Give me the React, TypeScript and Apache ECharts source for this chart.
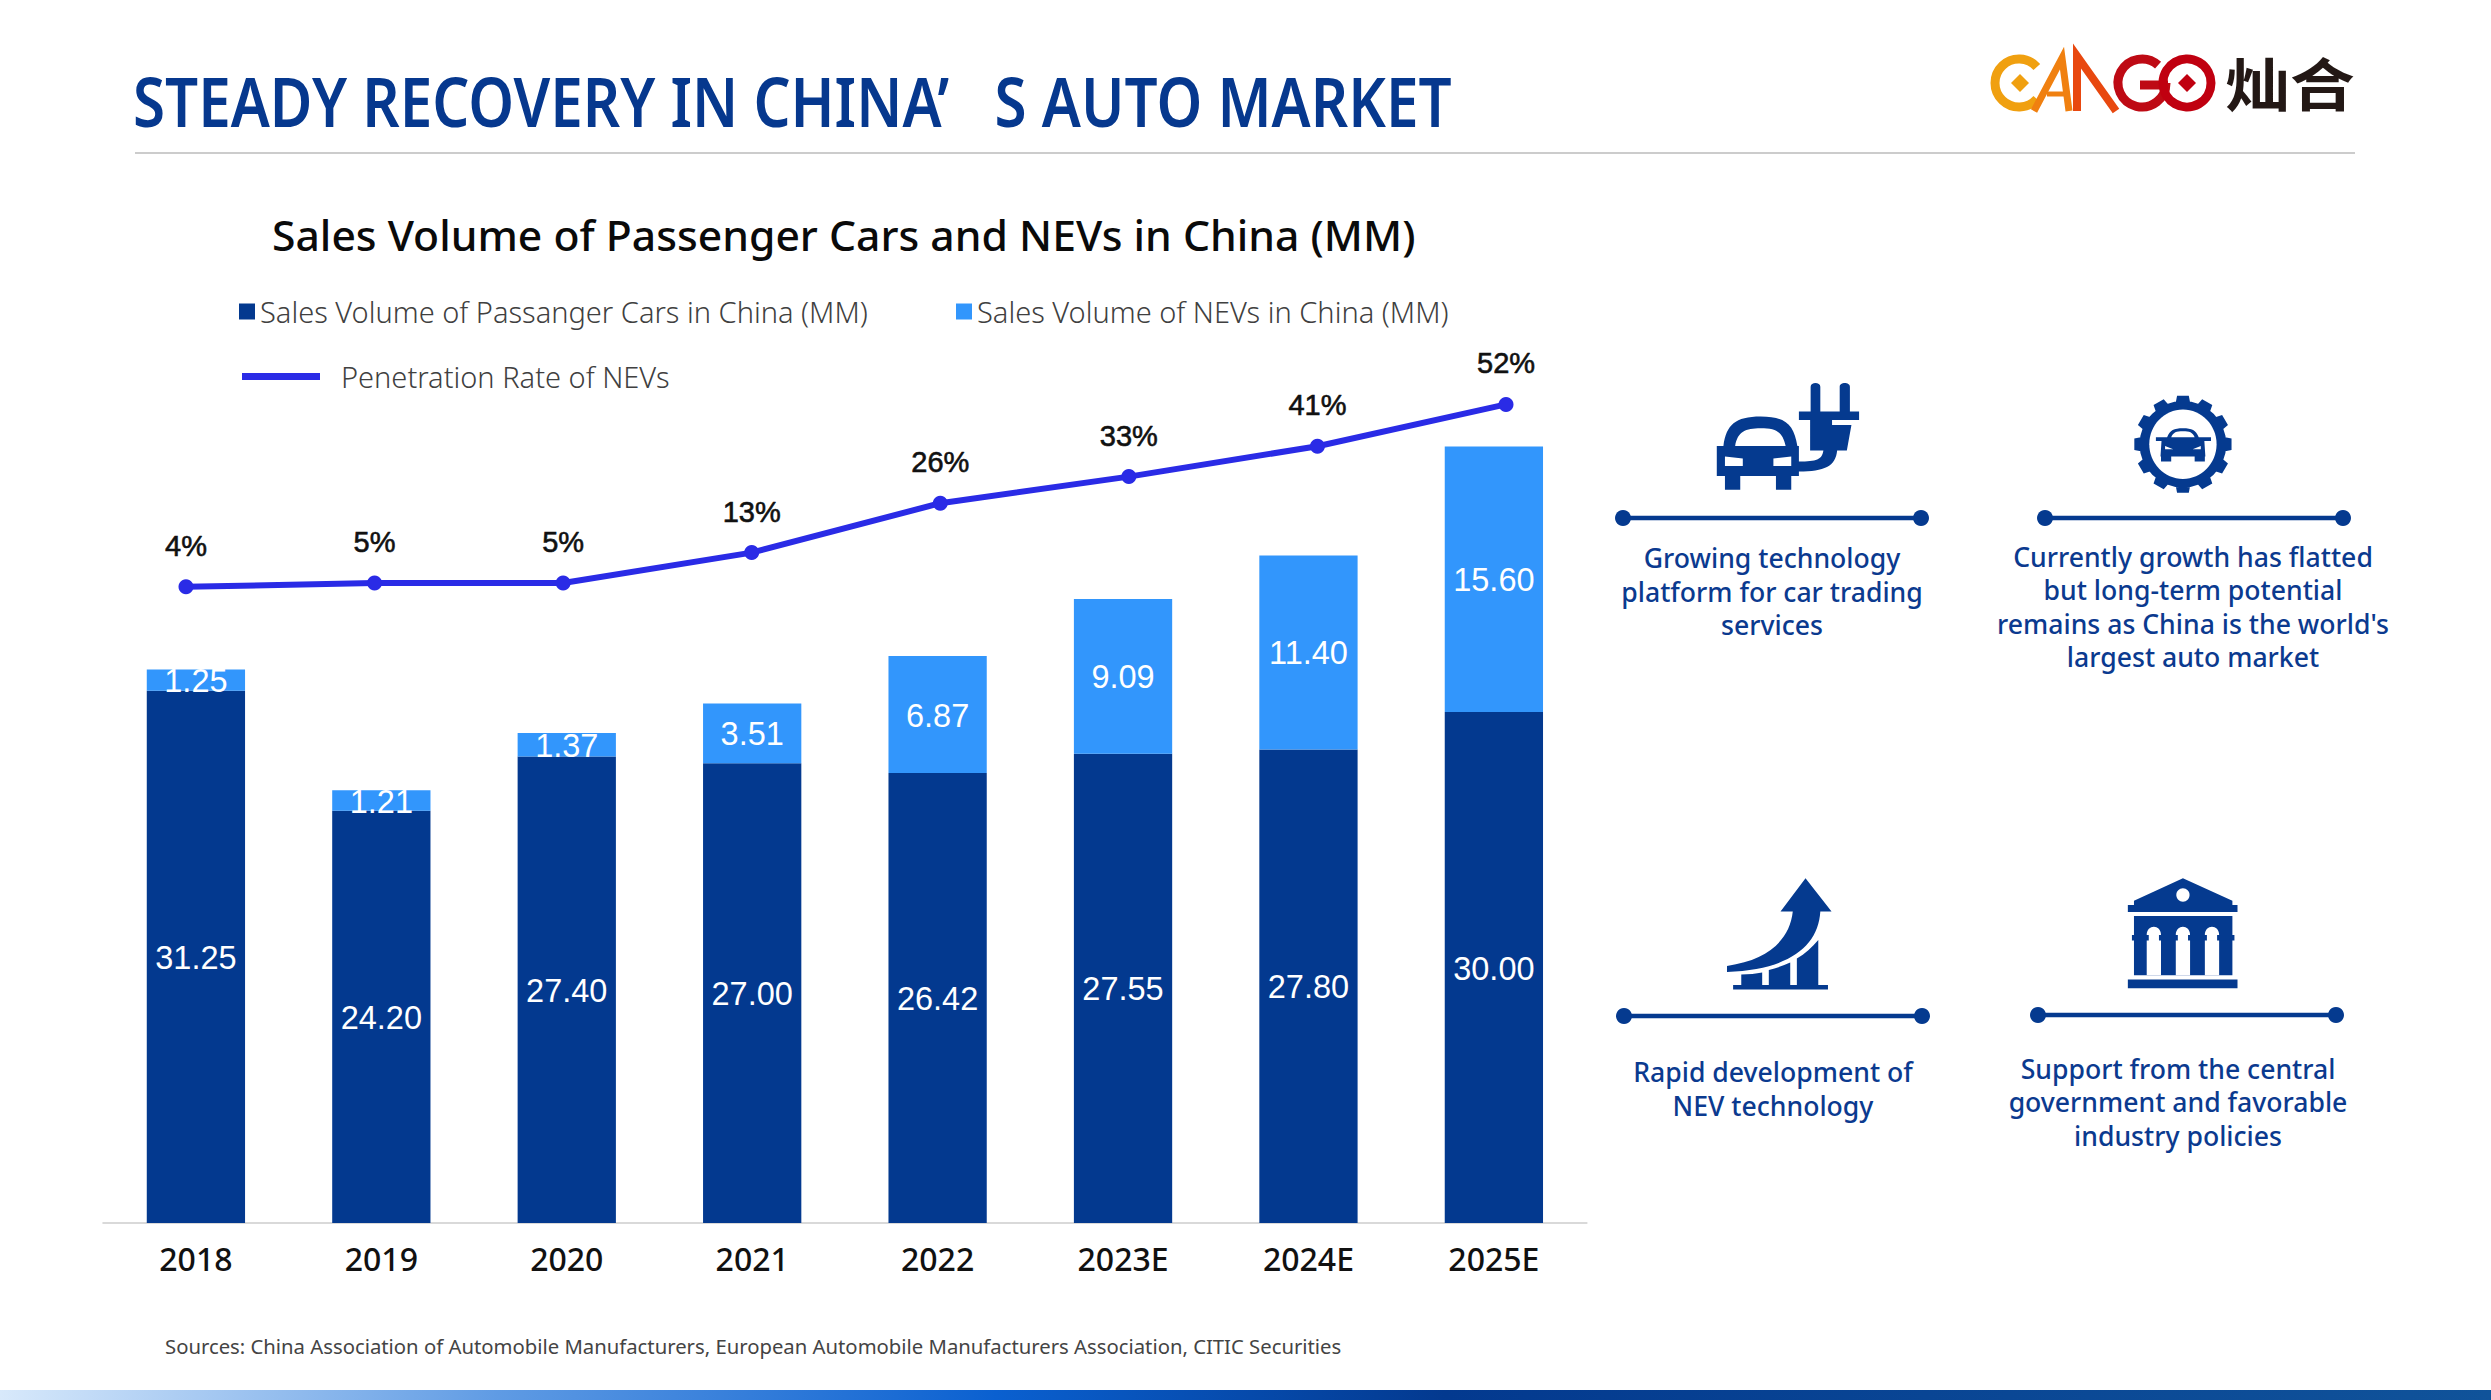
import React, { useEffect, useRef } from "react";
import * as echarts from "echarts";

const categories = ["2018", "2019", "2020", "2021", "2022", "2023E", "2024E", "2025E"];
const passengerCars = [31.25, 24.2, 27.4, 27.0, 26.42, 27.55, 27.8, 30.0];
const nevs = [1.25, 1.21, 1.37, 3.51, 6.87, 9.09, 11.4, 15.6];
const penetration = [4, 5, 5, 13, 26, 33, 41, 52];

const seriesNames = [
  "Sales Volume of Passanger Cars in China (MM)",
  "Sales Volume of NEVs in China (MM)",
  "Penetration Rate of NEVs",
];
const pageTitle = "STEADY RECOVERY IN CHINA’   S AUTO MARKET";
const chartTitle = "Sales Volume of Passenger Cars and NEVs in China (MM)";
const sourceText =
  "Sources: China Association of Automobile Manufacturers, European Automobile Manufacturers Association, CITIC Securities";

const DARK = "#03398f";
const LIGHT = "#3296fc";
const LINE = "#2a2be6";
const ICON = "#053a8f";
const SANS = '"Noto Sans"';

const callouts = [
  { lines: ["Growing technology", "platform for car trading", "services"], cx: 1772, ys: [558, 592, 625] },
  { lines: ["Currently growth has flatted", "but long-term potential", "remains as China is the world's", "largest auto market"], cx: 2193, ys: [557, 590, 624, 657] },
  { lines: ["Rapid development of", "NEV technology"], cx: 1773, ys: [1072, 1106] },
  { lines: ["Support from the central", "government and favorable", "industry policies"], cx: 2178, ys: [1069, 1102, 1136] },
];
const connectors = [
  [1623, 1921, 518],
  [2045, 2343, 518],
  [1624, 1922, 1016],
  [2038, 2336, 1015],
];

const gearPath = (() => {
  const cx = 1143, cy = 253, n = 12;
  let d = `M${cx - 85} ${cy} A85 130 0 1 1 ${cx + 85} ${cy} A85 130 0 1 1 ${cx - 85} ${cy} Z `;
  for (let i = 0; i < n; i++) {
    const a = (i / n) * Math.PI * 2 - Math.PI / 2;
    const p = (r: number, t: number) =>
      `${(cx + r * 96 * Math.cos(t)).toFixed(1)} ${(cy + r * 147 * Math.sin(t)).toFixed(1)}`;
    d += `M${p(0.8, a - 0.2)} L${p(1, a - 0.12)} L${p(1, a + 0.12)} L${p(0.8, a + 0.2)} Z `;
  }
  return d;
})();

const SHAPES: Record<string, string> = {
  carPlug:
    "M229 258 H242 C248 195 265 170 315 170 C365 170 380 195 387 258 H390 V348 H375 V390 H345 V348 H275 V390 H245 V348 H229 Z " +
    "M413 80 C413 65 432 65 432 80 V155 H470 V80 C470 65 490 65 490 80 V155 H508 V180 H455 V195 H493 L484 272 H465 C462 320 440 335 390 335 V305 C425 305 435 300 438 272 H412 V180 H390 V155 H413 Z",
  carHoles:
    "M265 258 C270 215 285 205 315 205 C345 205 358 215 364 258 Z M245 290 L280 296 V318 H245 Z M375 290 L340 296 V318 H375 Z",
  gear: gearPath,
  smallCar:
    "M1112 232 C1118 210 1125 205 1143 205 C1161 205 1168 210 1174 232 H1198 V243 H1185 L1187 290 H1186 V305 H1166 V290 H1120 V305 H1100 V290 H1099 L1101 243 H1090 V232 Z",
  smallCarHoles:
    "M1120 232 C1124 217 1130 214 1143 214 C1156 214 1162 217 1166 232 Z M1108 258 L1124 268 H1108 Z M1178 258 L1162 268 H1178 Z",
  growth:
    "M403 55 L454 155 H432 C428 260 370 330 249 336 V318 C330 300 372 240 378 155 H354 Z " +
    "M428 240 V375 H386 V296 C402 282 416 262 428 240 Z M373 308 V375 H331 V330 C346 325 360 317 373 308 Z M318 338 V375 H277 V344 C292 344 306 342 318 338 Z M261 375 H447 V389 H261 Z",
  bank:
    "M1143 55 L1240 122 V135 H1250 V156 H1035 V135 H1047 V122 Z M1047 168 H1240 V346 H1047 Z M1035 359 H1250 V385 H1035 Z",
  bankHoles:
    "M1072 346 V225 C1072 192 1100 192 1100 225 V346 Z M1129 346 V225 C1129 192 1157 192 1157 225 V346 Z M1186 346 V225 C1186 192 1214 192 1214 225 V346 Z",
  bankCaps:
    "M1043 225 H1076 V242 H1043 Z M1096 225 H1133 V242 H1096 Z M1153 225 H1190 V242 H1153 Z M1210 225 H1244 V242 H1210 Z",
};
Object.keys(SHAPES).forEach((k) => {
  echarts.graphic.registerShape(k, echarts.graphic.extendPath(SHAPES[k], {}) as any);
});

function buildGraphic() {
  const out: any[] = [];
  const text = (t: string, x: number, y: number, font: string, fill: string, align = "center", scaleX = 1, scaleY = 1) => ({
    type: "text", x, y, scaleX, scaleY, silent: true,
    style: { text: t, font, fill, align, verticalAlign: "middle" },
  });
  const logoArc = (cx: number, cy: number, start: number, end: number, stroke: string) => ({
    type: "arc", silent: true,
    shape: { cx, cy, r: 24, startAngle: (start * Math.PI) / 180, endAngle: (end * Math.PI) / 180 },
    style: { stroke, lineWidth: 9, fill: "none" },
  });
  const seg = (pts: number[][], stroke: string, lineWidth: number) => ({
    type: "polyline", silent: true, shape: { points: pts }, style: { stroke, lineWidth, fill: "none" },
  });
  const diamond = (cx: number, cy: number, r: number, fill: string) => ({
    type: "polygon", silent: true,
    shape: { points: [[cx - r, cy], [cx, cy - r], [cx + r, cy], [cx, cy + r]] }, style: { fill },
  });

  out.push(text(pageTitle, 133, 101, `600 68px ${SANS}`, "#06388e", "left", 0.857));
  out.push({ type: "rect", silent: true, shape: { x: 135, y: 152, width: 2220, height: 2 }, style: { fill: "#cccccc" } });
  out.push(text(chartTitle, 272, 235, `500 42px ${SANS}`, "#0a0a0a", "left", 1.016));
  out.push(text(sourceText, 165, 1346, `400 20.3px ${SANS}`, "#444444", "left", 1));
  out.push({
    type: "rect", silent: true, shape: { x: 0, y: 1390, width: 2491, height: 10 },
    style: {
      fill: new echarts.graphic.LinearGradient(0, 0, 1, 0, [
        { offset: 0, color: "#d8e9fb" },
        { offset: 0.2, color: "#5f9be4" },
        { offset: 0.4, color: "#0a60d0" },
        { offset: 0.58, color: "#03398f" },
        { offset: 1, color: "#10539a" },
      ]),
    },
  });

  // logo
  out.push(logoArc(2019, 83, 42, 318, "#f0a010"));
  out.push(diamond(2020, 83, 9, "#f0a010"));
  out.push(seg([[2034, 111], [2062, 58], [2069, 111]], "#f08010", 7));
  out.push(seg([[2047, 94], [2068, 94]], "#f08010", 5));
  out.push(seg([[2077, 111], [2077, 56], [2116, 111]], "#e8480f", 8));
  out.push(logoArc(2142, 83, 0, 312, "#be0a14"));
  out.push(seg([[2140, 85], [2168, 85]], "#be0a14", 9));
  out.push(logoArc(2187, 83, 0, 359.9, "#c00010"));
  out.push(diamond(2187, 83, 9, "#c00010"));
  out.push(text("灿合", 2290, 81, '700 60px "Noto Sans CJK SC"', "#231815", "center", 1.08, 0.95));

  // connectors
  connectors.forEach(([a, b, y]) => {
    out.push({ type: "line", silent: true, shape: { x1: a, y1: y, x2: b, y2: y }, style: { stroke: ICON, lineWidth: 4.5 } });
    out.push({ type: "circle", silent: true, shape: { cx: a, cy: y, r: 8 }, style: { fill: ICON } });
    out.push({ type: "circle", silent: true, shape: { cx: b, cy: y, r: 8 }, style: { fill: ICON } });
  });

  // icons, drawn in crop space
  const white = "#ffffff";
  const iconGroup = (y: number, children: any[]) => ({
    type: "group", x: 1600, y, scaleX: 1 / 1.96, scaleY: 1 / 3, silent: true, children,
  });
  out.push(iconGroup(360, [
    { type: "carPlug", style: { fill: ICON } },
    { type: "carHoles", style: { fill: white } },
    { type: "gear", style: { fill: ICON } },
    { type: "ellipse", shape: { cx: 1143, cy: 253, rx: 66, ry: 104 }, style: { fill: white } },
    { type: "smallCar", style: { fill: ICON } },
    { type: "smallCarHoles", style: { fill: white } },
  ]));
  out.push(iconGroup(860, [
    { type: "growth", style: { fill: ICON } },
    { type: "bank", style: { fill: ICON } },
    { type: "bankHoles", style: { fill: white } },
    { type: "bankCaps", style: { fill: ICON } },
    { type: "ellipse", shape: { cx: 1143, cy: 105, rx: 13, ry: 20 }, style: { fill: white } },
  ]));

  callouts.forEach((c) =>
    c.lines.forEach((l, i) => out.push(text(l, c.cx, c.ys[i], `500 26.6px ${SANS}`, "#0b3a8f")))
  );
  return out;
}

const legendText = { fontFamily: SANS, fontSize: 29, fontWeight: 300, color: "#404040" };
const barLabel = {
  show: true, position: "inside", offset: [0, 1], color: "#fff",
  fontFamily: '"Liberation Sans"', fontSize: 32.5,
  formatter: (p: any) => p.value.toFixed(2),
};

export default function App() {
  const ref = useRef<HTMLDivElement>(null);
  useEffect(() => {
    const chart = echarts.init(ref.current!, undefined, { renderer: "svg" });
    chart.setOption({
      animation: false,
      backgroundColor: "#ffffff",
      legend: [
        { data: [seriesNames[0]], left: 239, top: 297, padding: 0, icon: "rect", itemWidth: 16, itemHeight: 16, selectedMode: false, textStyle: legendText },
        { data: [seriesNames[1]], left: 956, top: 297, padding: 0, icon: "rect", itemWidth: 16, itemHeight: 16, selectedMode: false, textStyle: legendText },
        { data: [seriesNames[2]], left: 242, top: 362, padding: 0, icon: "rect", itemWidth: 78, itemHeight: 7, selectedMode: false, textStyle: { ...legendText, padding: [0, 0, 0, 16] } },
      ],
      grid: [
        { left: 103.2, width: 1483.4, top: 371.5, height: 851.5 },
        { left: 91.7, width: 1508.6, top: 374, height: 228 },
      ],
      xAxis: [
        {
          type: "category", gridIndex: 0, data: categories,
          axisTick: { show: false },
          axisLine: { lineStyle: { color: "#d9d9d9", width: 2 } },
          axisLabel: { color: "#111111", fontFamily: SANS, fontWeight: 500, fontSize: 32, margin: 19 },
        },
        { type: "category", gridIndex: 1, data: categories, show: false },
      ],
      yAxis: [
        { type: "value", gridIndex: 0, min: 0, max: 50, show: false },
        { type: "value", gridIndex: 1, min: 0, max: 60, show: false },
      ],
      series: [
        {
          name: seriesNames[0], type: "bar", stack: "sales", data: passengerCars,
          barCategoryGap: "47%", itemStyle: { color: DARK }, label: barLabel,
        },
        {
          name: seriesNames[1], type: "bar", stack: "sales", data: nevs,
          barCategoryGap: "47%", itemStyle: { color: LIGHT }, label: barLabel,
        },
        {
          name: seriesNames[2], type: "line", xAxisIndex: 1, yAxisIndex: 1, data: penetration,
          symbol: "circle", symbolSize: 15,
          lineStyle: { color: LINE, width: 6 }, itemStyle: { color: LINE },
          label: {
            show: true, position: "top", distance: 19, color: "#111", fontFamily: '"Liberation Sans"',
            fontSize: 29, textBorderColor: "#111", textBorderWidth: 0.6,
            formatter: (p: any) => `${p.value}%`,
          },
        },
      ],
      graphic: buildGraphic(),
    });
    return () => chart.dispose();
  }, []);
  return <div ref={ref} style={{ position: "fixed", left: 0, top: 0, width: 2491, height: 1400 }} />;
}
